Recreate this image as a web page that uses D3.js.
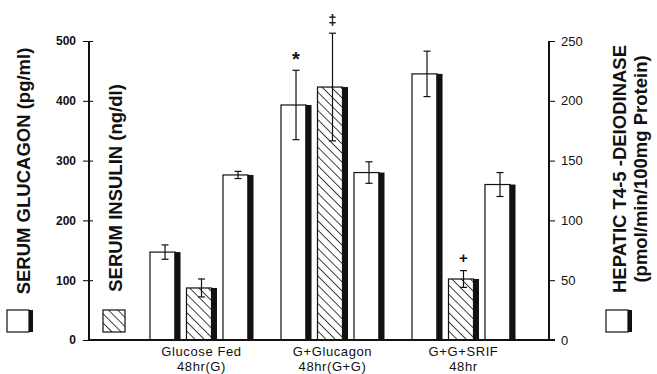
<!DOCTYPE html>
<html>
<head>
<meta charset="utf-8">
<script src="https://cdn.jsdelivr.net/npm/d3@7"></script>
<style>
  body { margin: 0; background: #fff; }
  text { font-family: "Liberation Sans", Arial, sans-serif; fill: #111; }
</style>
</head>
<body>
<div id="chart"></div>
<script>
// data
const groups = ["Glucose Fed|48hr(G)", "G+Glucagon|48hr(G+G)", "G+G+SRIF|48hr"];
const glucagon = [147, 393, 445];        // pg/ml (left axis)
const glucagonErr = [12, 58, 38];
const insulin = [87, 423, 102];          // ng/dl (left axis)
const insulinErr = [15, 90, 14];
const deiodinase = [138, 140, 130];      // pmol/min/100mg protein (right axis)
const deiodinaseErr = [3, 9, 10];
const marks = [["", "", ""], ["*", "\u2021", ""], ["", "+", ""]];
const leftTicks = [0, 100, 200, 300, 400, 500];
const rightTicks = [0, 50, 100, 150, 200, 250];
const series = ["glucagon", "insulin", "deiodinase"];

const W = 657, H = 374;
const svg = d3.select("#chart").append("svg").attr("width", W).attr("height", H);

// hatch running top-left -> bottom-right
const defs = svg.append("defs");
const pat = defs.append("pattern")
  .attr("id", "hatch").attr("patternUnits", "userSpaceOnUse")
  .attr("width", 6.5).attr("height", 6.5)
  .attr("patternTransform", "rotate(-45)");
pat.append("rect").attr("width", 6.5).attr("height", 6.5).attr("fill", "#fff");
pat.append("line").attr("x1", 0).attr("y1", 0).attr("x2", 0).attr("y2", 6.5)
  .attr("stroke", "#111").attr("stroke-width", 1.6);

const axL = 89, axR = 549, plotTop = 41, base = 340;

const yL = d3.scaleLinear().domain([0, 500]).range([base, plotTop]);
const yR = d3.scaleLinear().domain([0, 250]).range([base, plotTop]);
const x0 = d3.scaleBand().domain(groups).range([136, 529]);
const x1 = d3.scaleBand().domain(series).range([0, x0.bandwidth()])
  .paddingInner(0.15).paddingOuter(0.37);

const bw = x1.bandwidth();
const stripe = 6;

// rows for the bars
const rows = [];
groups.forEach((g, i) => {
  rows.push({g, s: "glucagon", v: glucagon[i], e: glucagonErr[i], y: yL, m: marks[i][0]});
  rows.push({g, s: "insulin", v: insulin[i], e: insulinErr[i], y: yL, m: marks[i][1]});
  rows.push({g, s: "deiodinase", v: deiodinase[i], e: deiodinaseErr[i], y: yR, m: marks[i][2]});
});

const bars = svg.append("g").selectAll("g").data(rows).join("g")
  .attr("transform", d => "translate(" + (x0(d.g) + x1(d.s)) + ",0)");

bars.append("rect")
  .attr("x", 0.5)
  .attr("y", d => d.y(d.v))
  .attr("width", bw - stripe)
  .attr("height", d => base - d.y(d.v))
  .attr("fill", d => d.s === "insulin" ? "url(#hatch)" : "#fff")
  .attr("stroke", "#111").attr("stroke-width", 1.2);

bars.append("rect")
  .attr("x", bw - stripe)
  .attr("y", d => d.y(d.v))
  .attr("width", stripe)
  .attr("height", d => base - d.y(d.v))
  .attr("fill", "#111");

// error bars
const cx = bw / 2;
bars.append("line")
  .attr("x1", cx).attr("x2", cx)
  .attr("y1", d => d.y(d.v + d.e)).attr("y2", d => d.y(d.v - d.e))
  .attr("stroke", "#111").attr("stroke-width", 1.2);
bars.append("line")
  .attr("x1", cx - 3.5).attr("x2", cx + 3.5)
  .attr("y1", d => d.y(d.v + d.e)).attr("y2", d => d.y(d.v + d.e))
  .attr("stroke", "#111").attr("stroke-width", 1.2);
bars.append("line")
  .attr("x1", cx - 3.5).attr("x2", cx + 3.5)
  .attr("y1", d => d.y(d.v - d.e)).attr("y2", d => d.y(d.v - d.e))
  .attr("stroke", "#111").attr("stroke-width", 1.2);

// significance marks
bars.filter(d => d.m).append("text")
  .attr("x", cx)
  .attr("y", d => d.y(d.v + d.e) - (d.m === "*" ? 4 : 8))
  .attr("text-anchor", "middle")
  .style("font-size", d => d.m === "*" ? "20px" : "15px")
  .style("font-weight", "bold")
  .text(d => d.m);

// axes
const leftAx = svg.append("g").attr("transform", "translate(" + axL + ",0)")
  .call(d3.axisLeft(yL).tickValues(leftTicks).tickSize(5).tickPadding(8));
leftAx.selectAll(".tick line").attr("x2", -6).attr("x1", 4);
leftAx.selectAll("text").style("font-size", "12px").style("font-weight", "bold");

const rightAx = svg.append("g").attr("transform", "translate(" + axR + ",0)")
  .call(d3.axisRight(yR).tickValues(rightTicks).tickSize(6).tickPadding(6));
rightAx.selectAll("text").style("font-size", "13px");

leftAx.select(".domain").remove();
rightAx.select(".domain").remove();
svg.append("line").attr("x1", axL).attr("x2", axL).attr("y1", plotTop).attr("y2", base + 1)
  .attr("stroke", "#111").attr("stroke-width", 2);
svg.append("line").attr("x1", axR).attr("x2", axR).attr("y1", plotTop).attr("y2", base + 1)
  .attr("stroke", "#111").attr("stroke-width", 2);
svg.append("line").attr("x1", axL).attr("x2", axR + 6).attr("y1", base).attr("y2", base)
  .attr("stroke", "#111").attr("stroke-width", 2);

// group labels
const xl = svg.append("g").selectAll("text").data(groups).join("text")
  .attr("x", d => x0(d) + x1("insulin") + bw / 2)
  .attr("y", 356)
  .attr("text-anchor", "middle")
  .style("font-size", "13px")
  .style("letter-spacing", "0.6px");
xl.selectAll("tspan").data(d => d.split("|")).join("tspan")
  .attr("x", function() { return this.parentNode.getAttribute("x"); })
  .attr("dy", (d, i) => i ? 15 : 0)
  .text(d => d);

// rotated axis titles
function title(txt, cx, cy, size) {
  svg.append("text")
    .attr("transform", "translate(" + cx + "," + cy + ") rotate(-90)")
    .attr("dy", "0.35em")
    .attr("text-anchor", "middle")
    .style("font-size", size + "px")
    .style("font-weight", "bold")
    .text(txt);
}
title("SERUM GLUCAGON (pg/ml)", 24, 171, 18.5);
title("SERUM INSULIN (ng/dl)", 116, 188, 18.5);
title("HEPATIC T4-5 -DEIODINASE", 620, 169, 18.5);
title("(pmol/min/100mg Protein)", 641, 169, 18.5);

// legend swatches
function swatch(x, fill) {
  svg.append("rect").attr("x", x).attr("y", 310).attr("width", 22).attr("height", 22)
    .attr("fill", fill).attr("stroke", "#111").attr("stroke-width", 1.2);
  if (fill === "#fff") {
    svg.append("rect").attr("x", x + 22).attr("y", 310).attr("width", 4).attr("height", 22)
      .attr("fill", "#111");
  }
}
swatch(7, "#fff");
swatch(103, "url(#hatch)");
swatch(606, "#fff");
</script>
</body>
</html>
